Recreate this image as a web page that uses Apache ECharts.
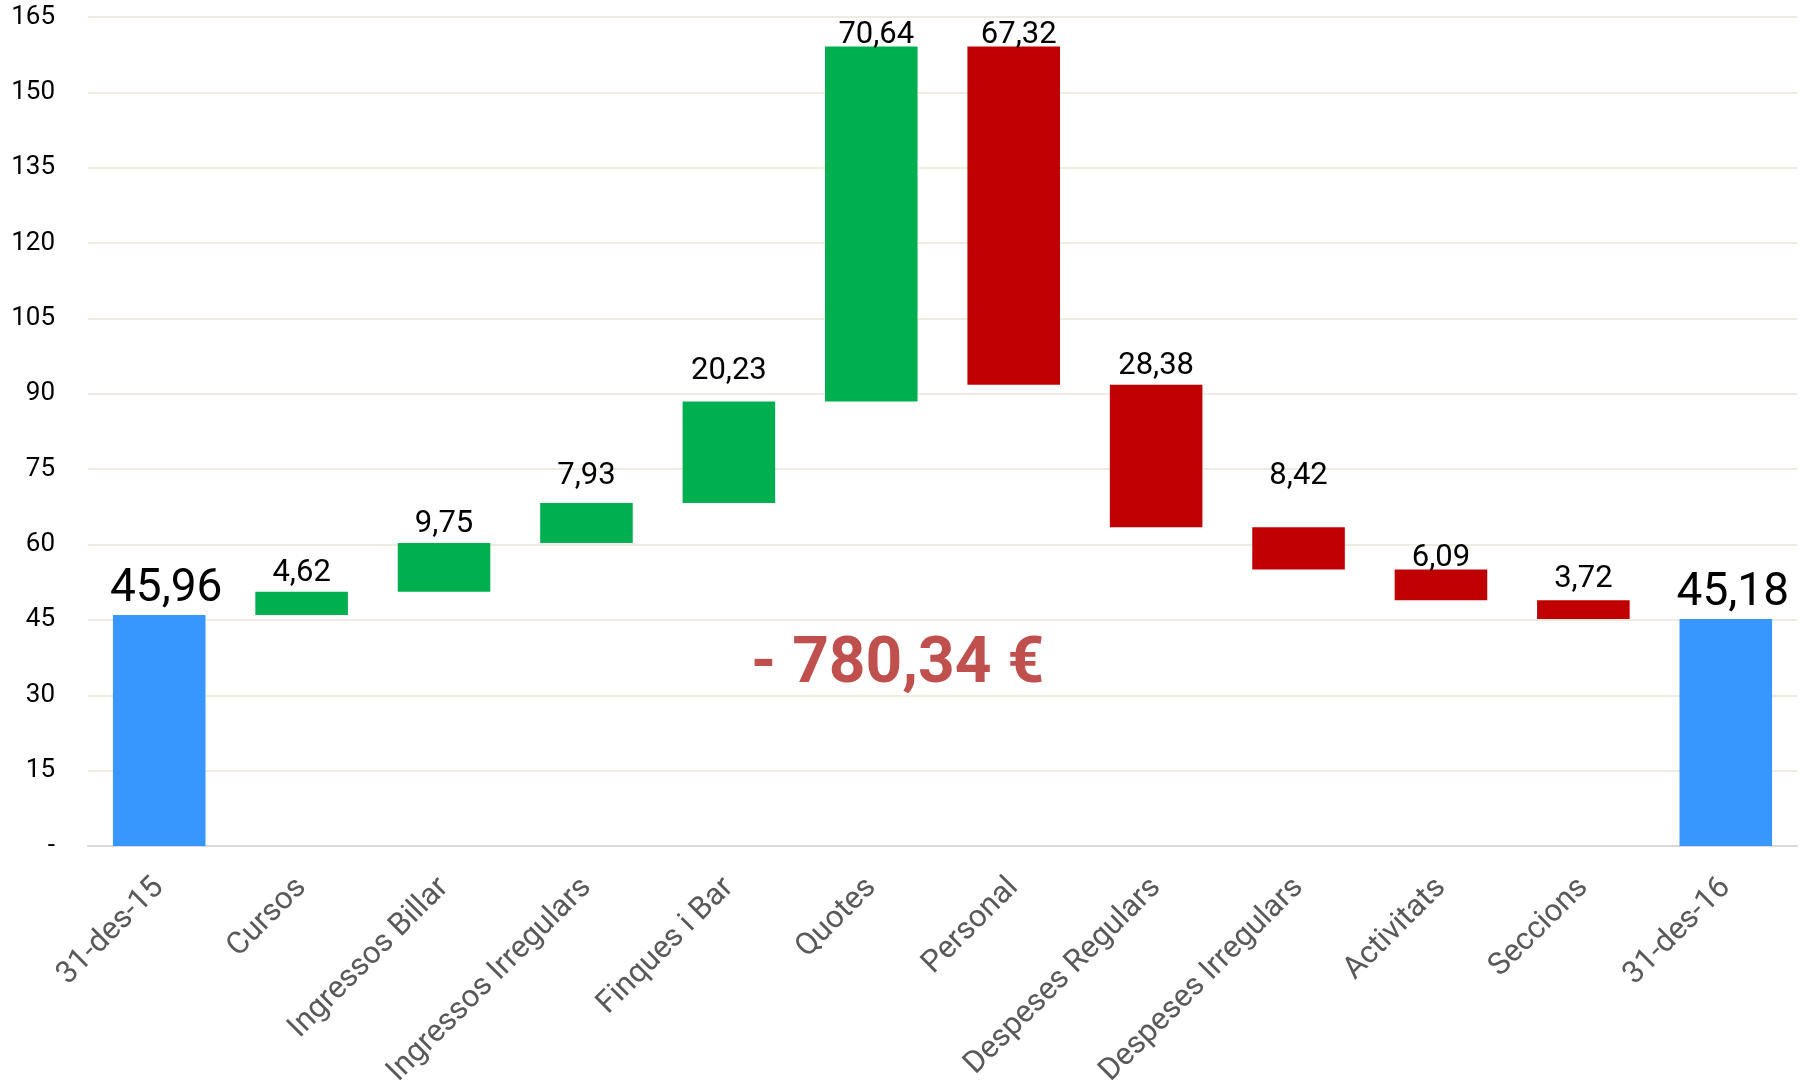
<!DOCTYPE html>
<html>
<head>
<meta charset="utf-8">
<script src="https://cdn.jsdelivr.net/npm/echarts@6/dist/echarts.min.js"></script>
<style>
  html, body { margin: 0; padding: 0; background: #fff; }
  #chart { width: 1807px; height: 1087px; }
</style>
</head>
<body>
<div id="chart"></div>
<script>
// categories and values (thousands of euros)
var categories = ['31-des-15', 'Cursos', 'Ingressos Billar', 'Ingressos Irregulars', 'Finques i Bar',
    'Quotes', 'Personal', 'Despeses Regulars', 'Despeses Irregulars', 'Activitats', 'Seccions', '31-des-16'];
var startBalance = 45.96;
var endBalance = 45.18;
var changes = [4.62, 9.75, 7.93, 20.23, 70.64, -67.32, -28.38, -8.42, -6.09, -3.72];
var yTicks = [0, 15, 30, 45, 60, 75, 90, 105, 120, 135, 150, 165];
var resultText = '- 780,34 €';

var BLUE = '#3797ff', GREEN = '#00b050', RED = '#c00000';

// label nudges, the way Excel placed them (index -> [dx, dy])
var labelNudge = {
    0: [7, 0], 3: [0, -8], 4: [0, -12], 5: [5, 7], 6: [5, 7],
    8: [0, -33], 9: [0, 7], 10: [0, -2], 11: [7, 0]
};

// build the waterfall: invisible base + visible part
var base = [0];
var visible = [{ value: startBalance, itemStyle: { color: BLUE }, big: true }];
var running = startBalance;
for (var i = 0; i < changes.length; i++) {
    var c = changes[i];
    if (c >= 0) {
        base.push(running);
        visible.push({ value: c, itemStyle: { color: GREEN } });
    } else {
        base.push(running + c);
        visible.push({ value: -c, itemStyle: { color: RED } });
    }
    running += c;
}
base.push(0);
visible.push({ value: endBalance, itemStyle: { color: BLUE }, big: true });

var fmt = function (v) { return v.toFixed(2).replace('.', ','); };

visible = visible.map(function (d, idx) {
    var item = { value: d.value, itemStyle: d.itemStyle };
    item.label = { fontSize: d.big ? 46 : 31, offset: labelNudge[idx] || [0, 0] };
    return item;
});

var chart = echarts.init(document.getElementById('chart'));
var opt = {
    animation: false,
    grid: { left: 88, right: 10, top: 17, bottom: 241, outerBoundsMode: 'none' },
    xAxis: {
        type: 'category',
        data: categories,
        axisLine: { lineStyle: { color: '#d9d9d9', width: 2 } },
        axisTick: { show: false },
        axisLabel: {
            rotate: 45,
            interval: 0,
            margin: 37,
            fontFamily: 'Roboto',
            fontSize: 31,
            color: '#595959'
        }
    },
    yAxis: {
        type: 'value',
        min: yTicks[0],
        max: yTicks[yTicks.length - 1],
        interval: 15,
        axisLine: { show: false },
        axisTick: { show: false },
        splitLine: { lineStyle: { color: '#efebe1', width: 2 } },
        axisLabel: {
            margin: 33,
            fontFamily: 'Roboto',
            fontSize: 26,
            color: '#000',
            formatter: function (v) { return v === 0 ? '-' : String(v); }
        }
    },
    series: [
        {
            type: 'bar',
            stack: 'wf',
            data: base,
            itemStyle: { color: 'transparent' },
            silent: true,
            barCategoryGap: '35%'
        },
        {
            type: 'bar',
            stack: 'wf',
            data: visible,
            barCategoryGap: '35%',
            label: {
                show: true,
                position: 'top',
                distance: 3,
                fontFamily: 'Roboto',
                color: '#000',
                formatter: function (p) { return fmt(p.value); }
            }
        }
    ],
    graphic: [{
        type: 'text',
        left: 751,
        top: 634,
        style: {
            text: resultText,
            font: 'bold 64px Roboto',
            fill: '#c0504d',
            shadowColor: 'rgba(0,0,0,0.35)',
            shadowBlur: 3,
            shadowOffsetX: 2,
            shadowOffsetY: 2
        }
    }]
};
chart.setOption(opt);
</script>
</body>
</html>
